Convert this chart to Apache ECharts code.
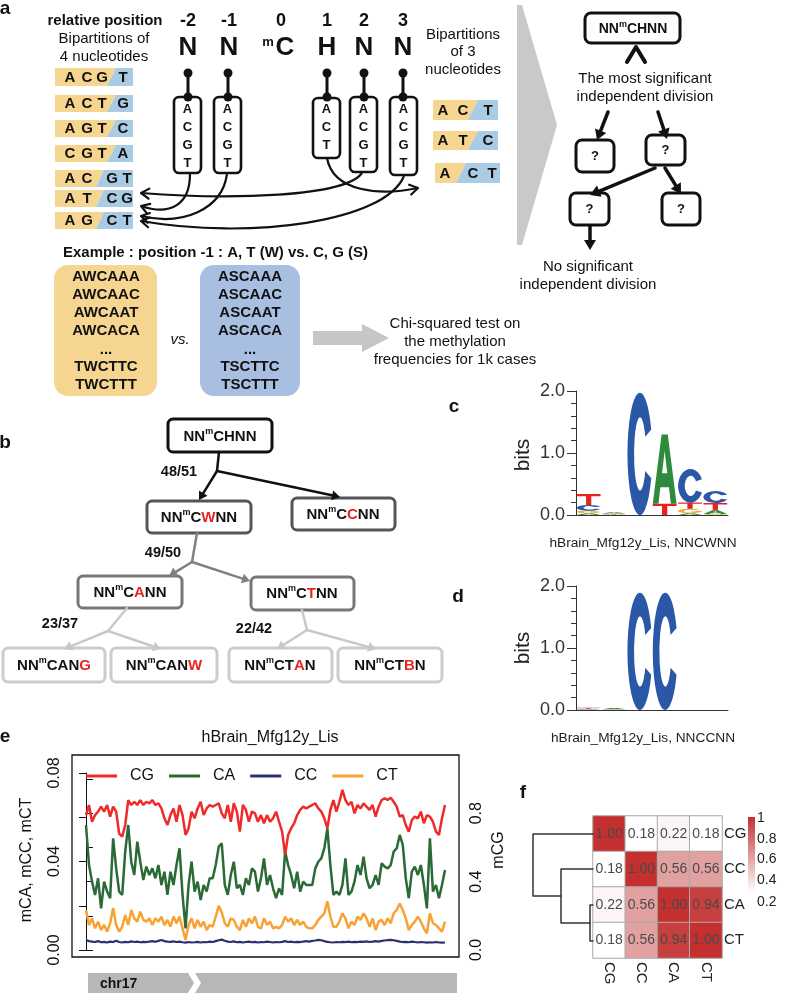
<!DOCTYPE html>
<html><head><meta charset="utf-8">
<script src="https://cdn.jsdelivr.net/npm/echarts/dist/echarts.min.js"></script>
<style>html,body{margin:0;padding:0;background:#fff}#c{width:787px;height:993px}</style>
</head><body><div id="c"></div>
<script>
// ---------------- DATA ----------------
// panel e: methylation levels along chr17 (CG on right axis, others on left axis)
const lineNames = ['CG', 'CA', 'CC', 'CT'];
const mCG = [.789,.848,.750,.789,.809,.838,.809,.848,.780,.838,.809,.680,.663,.731,.877,.848,.867,.848,.877,.848,.867,.858,.877,.848,.858,.828,.770,.731,.789,.828,.750,.848,.789,.673,.712,.809,.770,.828,.867,.789,.828,.848,
.838,.848,.858,.799,.770,.848,.750,.858,.809,.692,.848,.819,.750,.809,.799,.750,.789,.741,.789,.750,.770,.809,.750,.692,.556,.673,.712,.741,.789,.819,.838,.828,.838,.848,.858,.828,.809,.770,.712,.819,.877,
.809,.867,.936,.877,.848,.867,.799,.848,.828,.858,.838,.819,.848,.780,.838,.877,.887,.877,.891,.867,.838,.780,.789,.731,.692,.760,.780,.770,.809,.741,.789,.780,.750,.692,.673,.770,.848];
const mCA = [.0565,.0384,.0309,.0249,.0324,.0188,.0309,.0264,.0234,.0505,.0369,.0264,.0249,.0445,.0565,.0399,.0339,.0490,.0399,.0316,.0377,.0339,.0369,.0324,.0384,.0294,.0354,.0249,.0354,.0294,.0384,.0460,.0249,.0098,.0294,.0400,.0264,.0309,.0226,.0294,.0264,.0324,
.0324,.0384,.0467,.0482,.0294,.0249,.0339,.0399,.0279,.0294,.0249,.0324,.0294,.0369,.0354,.0264,.0324,.0414,.0294,.0339,.0279,.0234,.0279,.0249,.0445,.0384,.0339,.0279,.0354,.0264,.0309,.0294,.0294,.0294,.0369,.0399,.0414,.0460,.0550,.0384,.0249,
.0264,.0249,.0294,.0414,.0249,.0264,.0309,.0384,.0339,.0422,.0324,.0279,.0294,.0339,.0294,.0392,.0377,.0369,.0384,.0445,.0460,.0520,.0475,.0324,.0234,.0354,.0377,.0339,.0384,.0294,.0188,.0505,.0264,.0294,.0234,.0294,.0362];
const mCC = [.0045,.0040,.0038,.0036,.0040,.0035,.0037,.0034,.0038,.0036,.0042,.0036,.0034,.0037,.0035,.0039,.0036,.0038,.0035,.0037,
.0036,.0038,.0040,.0037,.0041,.0045,.0040,.0038,.0037,.0039,.0036,.0038,.0035,.0033,.0036,.0034,.0035,.0037,.0034,.0036,
.0035,.0038,.0036,.0040,.0044,.0047,.0042,.0038,.0036,.0039,.0035,.0037,.0034,.0036,.0038,.0035,.0037,.0034,.0036,.0035,
.0038,.0036,.0034,.0036,.0035,.0037,.0040,.0036,.0038,.0035,.0037,.0036,.0038,.0040,.0038,.0041,.0043,.0046,.0044,.0040,
.0037,.0035,.0034,.0036,.0035,.0037,.0036,.0038,.0035,.0037,.0036,.0038,.0037,.0039,.0036,.0038,.0040,.0038,.0041,.0043,
.0045,.0046,.0044,.0041,.0038,.0036,.0037,.0035,.0038,.0036,.0034,.0036,.0035,.0033,.0035,.0034,.0036,.0034,.0033,.0034];
const mCT = [.0181,.0113,.0143,.0098,.0128,.0090,.0113,.0083,.0121,.0190,.0113,.0083,.0105,.0158,.0113,.0181,.0143,.0128,.0173,.0136,.0128,.0143,.0113,.0143,.0128,.0151,.0113,.0136,.0105,.0151,.0121,.0151,.0098,.0045,.0113,.0143,.0098,.0136,.0105,.0128,.0090,.0113,
.0105,.0151,.0200,.0170,.0121,.0105,.0143,.0136,.0105,.0090,.0136,.0105,.0143,.0121,.0151,.0105,.0098,.0143,.0113,.0128,.0098,.0105,.0098,.0113,.0151,.0128,.0143,.0113,.0136,.0113,.0128,.0105,.0098,.0098,.0113,.0136,.0151,.0166,.0220,.0151,.0105,
.0105,.0128,.0166,.0143,.0098,.0128,.0113,.0151,.0136,.0166,.0143,.0105,.0143,.0090,.0128,.0136,.0113,.0143,.0121,.0166,.0181,.0210,.0181,.0143,.0090,.0113,.0128,.0151,.0128,.0098,.0075,.0166,.0121,.0113,.0098,.0083,.0128];
const leftTicks = ['0.00', '0.04', '0.08'];
const rightTicks = ['0.0', '0.4', '0.8'];

// panels c, d: sequence logo heights (bits) per position
const logoPositions = ['1', '2', '3', '4', '5', '6'];
const wnnA = [0.03, 0.02, 0, 1.12, 0.03, 0.06];
const wnnC = [0.09, 0.006, 1.97, 0, 0.54, 0.19];
const wnnG = [0.04, 0.012, 0, 0, 0.07, 0.015];
const wnnT = [0.18, 0.006, 0, 0.18, 0.10, 0.12];
const ccnA = [0.006, 0.02, 0, 0, 0, 0];
const ccnC = [0.012, 0.004, 1.89, 1.89, 0, 0];
const ccnG = [0.004, 0.004, 0, 0, 0, 0];
const ccnT = [0.014, 0.003, 0, 0, 0, 0];

// panel f: correlation matrix
const heatCats = ['CG', 'CC', 'CA', 'CT'];
const heatRowCG = [1.00, 0.18, 0.22, 0.18];
const heatRowCC = [0.18, 1.00, 0.56, 0.56];
const heatRowCA = [0.22, 0.56, 1.00, 0.94];
const heatRowCT = [0.18, 0.56, 0.94, 1.00];
const colorbarTicks = ['1', '0.8', '0.6', '0.4', '0.2'];

// ---------------- HELPERS ----------------
const F = '"Liberation Sans", Arial, sans-serif';
const G = [];
function T(x, y, text, size, opt) {
  opt = opt || {};
  const al = opt.align || 'center', va = opt.va || 'middle';
  G.push({type: 'text', x: x, y: y, rotation: opt.rot || 0, z: opt.z || 60,
    style: {text: text, x: 0, y: 0, font: (opt.style || '') + ' ' + (opt.weight || 'normal') + ' ' + size + 'px ' + F,
      fill: opt.color || '#111', align: al, verticalAlign: va, textAlign: al, textVerticalAlign: va}});
}
function R(x, y, w, h, r, fill, stroke, lw, z) {
  G.push({type: 'rect', z: z || 30, shape: {x: x, y: y, width: w, height: h, r: r},
    style: {fill: fill, stroke: stroke || null, lineWidth: lw || 0}});
}
function P(points, fill, z) { G.push({type: 'polygon', z: z || 30, shape: {points: points}, style: {fill: fill}}); }
function PL(points, color, lw, z) { G.push({type: 'polyline', z: z || 40, shape: {points: points}, style: {stroke: color, lineWidth: lw, fill: 'none', lineJoin: 'round', lineCap: 'round'}}); }
function L(x1, y1, x2, y2, color, lw, z) { G.push({type: 'line', z: z || 40, shape: {x1: x1, y1: y1, x2: x2, y2: y2}, style: {stroke: color, lineWidth: lw, lineCap: 'round'}}); }
function C(cx, cy, r, fill) { G.push({type: 'circle', z: 45, shape: {cx: cx, cy: cy, r: r}, style: {fill: fill}}); }
function arrowF(x1, y1, x2, y2, color, lw, hl, hw) {
  const dx = x2 - x1, dy = y2 - y1, d = Math.hypot(dx, dy), ux = dx / d, uy = dy / d;
  const bx = x2 - ux * hl, by = y2 - uy * hl;
  L(x1, y1, bx + ux, by + uy, color, lw);
  P([[x2, y2], [bx - uy * hw, by + ux * hw], [bx + uy * hw, by - ux * hw]], color, 41);
}
function openHead(x2, y2, ux, uy, color, lw, hl, hw) {
  const bx = x2 - ux * hl, by = y2 - uy * hl;
  PL([[bx - uy * hw, by + ux * hw], [x2, y2], [bx + uy * hw, by - ux * hw]], color, lw, 41);
}
function curveArrow(x1, y1, c1x, c1y, c2x, c2y, x2, y2, color, lw) {
  G.push({type: 'bezierCurve', z: 40, shape: {x1: x1, y1: y1, cpx1: c1x, cpy1: c1y, cpx2: c2x, cpy2: c2y, x2: x2, y2: y2},
    style: {stroke: color, lineWidth: lw, fill: 'none'}});
  const dx = x2 - c2x, dy = y2 - c2y, d = Math.hypot(dx, dy);
  openHead(x2, y2, dx / d, dy / d, color, lw, 8, 5);
}
function motif(x, y, pre, red, post, size, msize) {
  let s = '{n|NN}{m|m}{n|C' + pre + '}';
  if (red) s += '{r|' + red + '}';
  if (post) s += '{n|' + post + '}';
  G.push({type: 'text', x: x, y: y, z: 60, style: {text: s, x: 0, y: 0, align: 'center', verticalAlign: 'middle',
    textAlign: 'center', textVerticalAlign: 'middle',
    rich: {n: {font: 'bold ' + size + 'px ' + F, fill: '#111', verticalAlign: 'bottom', lineHeight: size + 2},
           m: {font: 'bold ' + msize + 'px ' + F, fill: '#111', verticalAlign: 'top', lineHeight: msize + 1},
           r: {font: 'bold ' + size + 'px ' + F, fill: '#e8251f', verticalAlign: 'bottom', lineHeight: size + 2}}}});
}

// ---------------- PANEL LABELS ----------------
T(5, 9, 'a', 19, {weight: 'bold'});
T(5, 443, 'b', 19, {weight: 'bold'});
T(454, 407, 'c', 19, {weight: 'bold'});
T(458, 597, 'd', 19, {weight: 'bold'});
T(5, 737, 'e', 19, {weight: 'bold'});
T(523, 793, 'f', 19, {weight: 'bold'});

// ---------------- PANEL A ----------------
T(105, 21, 'relative position', 15, {weight: 'bold'});
const headNums = ['-2', '-1', '0', '1', '2', '3'];
const headBases = ['N', 'N', 'C', 'H', 'N', 'N'];
const headX = [188, 229, 285, 327, 364, 403];
headNums.forEach((s, i) => T(i === 2 ? 281 : headX[i], 21, s, 18, {weight: 'bold'}));
headBases.forEach((s, i) => T(headX[i], 48, s, 26, {weight: 'bold'}));
T(268, 42, 'm', 13, {weight: 'bold'});
T(104, 39, 'Bipartitions of', 15);
T(104, 57, '4 nucleotides', 15);
T(463, 35, 'Bipartitions', 15);
T(463, 52, 'of 3', 15);
T(463, 70, 'nucleotides', 15);

const YEL = '#f6d591', BLU = '#a9cbe3';
function bipart(x0, x1, y, h, xt, xb, left, right) {
  P([[x0, y], [xt, y], [xb, y + h], [x0, y + h]], YEL, 20);
  P([[xt, y], [x1, y], [x1, y + h], [xb, y + h]], BLU, 20);
  left.forEach(o => T(o[0], y + h / 2 + 0.5, o[1], 15, {weight: 'bold'}));
  right.forEach(o => T(o[0], y + h / 2 + 0.5, o[1], 15, {weight: 'bold'}));
}
const leftRows = [
  [68, 18, 'ACG', 'T'], [95, 17, 'ACT', 'G'], [120, 17, 'AGT', 'C'], [145, 17, 'CGT', 'A'],
  [170, 17, 'AC', 'GT'], [190, 17, 'AT', 'CG'], [212, 17, 'AG', 'CT']];
leftRows.forEach(r => {
  if (r[2].length === 3) bipart(55, 133, r[0], r[1], 116, 107, [[70, r[2][0]], [87, r[2][1]], [102, r[2][2]]], [[123, r[3]]]);
  else bipart(55, 133, r[0], r[1], 104, 96, [[70, r[2][0]], [87, r[2][1]]], [[112, r[3][0]], [127, r[3][1]]]);
});
bipart(433, 498, 100, 20, 478, 468, [[443, 'A'], [463, 'C']], [[488, 'T']]);
bipart(433, 498, 131, 19, 478, 468, [[443, 'A'], [463, 'T']], [[488, 'C']]);
bipart(435, 500, 163, 20, 466, 456, [[445, 'A']], [[473, 'C'], [492, 'T']]);

const posBoxes = [
  {x: 174, y: 97, w: 27, h: 76, cx: 188, lt: 'ACGT'},
  {x: 214, y: 97, w: 27, h: 76, cx: 228, lt: 'ACGT'},
  {x: 313, y: 98, w: 27, h: 60, cx: 327, lt: 'ACT'},
  {x: 350, y: 97, w: 27, h: 75, cx: 364, lt: 'ACGT'},
  {x: 390, y: 97, w: 27, h: 78, cx: 403, lt: 'ACGT'}];
posBoxes.forEach(b => {
  R(b.x, b.y, b.w, b.h, 5, '#fff', '#111', 2.6, 35);
  b.lt.split('').forEach((ch, k) => T(b.x + b.w / 2, 109 + k * 18.3, ch, 13, {weight: 'bold'}));
  L(b.cx, 73, b.cx, 97, '#111', 3, 44);
  C(b.cx, 73, 4.5, '#111');
  C(b.cx, 97, 4.5, '#111');
});
curveArrow(362, 173, 345, 197, 230, 200, 141, 193, '#111', 2.2);
curveArrow(404, 176, 385, 222, 250, 240, 141, 221, '#111', 2.2);
curveArrow(327, 158, 333, 192, 380, 196, 418, 188, '#111', 2.2);
curveArrow(190, 174, 190, 205, 170, 216, 141, 206, '#111', 2.2);
curveArrow(227, 174, 222, 210, 182, 226, 141, 216, '#111', 2.2);

// big chevron
P([[517, 5], [522, 5], [557, 125], [522, 245], [517, 245]], '#c9c9c9', 10);

// flow diagram
R(585, 13, 95, 30, 6, '#fff', '#111', 3, 35);
motif(633, 28, 'HNN', '', '', 14, 9);
PL([[627, 62], [636, 47], [645, 62]], '#111', 4);
T(645, 79, 'The most significant', 15);
T(645, 97, 'independent division', 15);
arrowF(608, 112, 597, 140, '#111', 3.5, 10, 6);
arrowF(658, 112, 667, 139, '#111', 3.5, 10, 6);
arrowF(655, 168, 590, 195, '#111', 3.5, 10, 6);
arrowF(665, 168, 681, 194, '#111', 3.5, 10, 6);
arrowF(590, 226, 590, 250, '#111', 3.5, 10, 6);
const qBoxes = [[576, 140, 38, 32], [646, 135, 39, 30], [570, 193, 39, 32], [662, 193, 38, 32]];
qBoxes.forEach(q => { R(q[0], q[1], q[2], q[3], 6, '#fff', '#111', 3, 35); T(q[0] + q[2] / 2, q[1] + q[3] / 2, '?', 13, {weight: 'bold'}); });
T(588, 267, 'No significant', 15);
T(588, 285, 'independent division', 15);

// example
T(63, 253, 'Example : position -1 : A, T (W) vs. C, G (S)', 15, {weight: 'bold', align: 'left'});
R(54, 265, 103, 131, 14, '#f6d591', null, 0, 20);
R(200, 265, 100, 131, 14, '#a9bfe1', null, 0, 20);
const exW = ['AWCAAA', 'AWCAAC', 'AWCAAT', 'AWCACA', '...', 'TWCTTC', 'TWCTTT'];
const exS = ['ASCAAA', 'ASCAAC', 'ASCAAT', 'ASCACA', '...', 'TSCTTC', 'TSCTTT'];
const exY = [277, 295, 313, 331, 350, 367, 385];
exW.forEach((s, i) => T(106, exY[i], s, 15, {weight: 'bold'}));
exS.forEach((s, i) => T(250, exY[i], s, 15, {weight: 'bold'}));
T(180, 340, 'vs.', 15, {style: 'italic'});
P([[313, 331], [362, 331], [362, 324], [389, 338], [362, 352], [362, 345], [313, 345]], '#c6c6c6', 20);
T(455, 324, 'Chi-squared test on', 15);
T(455, 342, 'the methylation', 15);
T(455, 360, 'frequencies for 1k cases', 15);

// ---------------- PANEL B ----------------
R(168, 419, 104, 33, 5, '#fff', '#111', 3, 35); motif(220, 436, 'HNN', '', '', 15, 9);
T(179, 472, '48/51', 14.5, {weight: 'bold'});
L(219, 452, 217, 471, '#111', 2.5);
arrowF(217, 471, 199, 500, '#111', 2.5, 8, 5);
arrowF(217, 471, 340, 497, '#111', 2.5, 8, 5);
R(147, 501, 104, 32, 5, '#fff', '#555', 3, 35); motif(199, 517, '', 'W', 'NN', 15, 9);
R(292, 498, 103, 32, 5, '#fff', '#555', 3, 35); motif(343, 514, '', 'C', 'NN', 15, 9);
T(163, 553, '49/50', 14.5, {weight: 'bold'});
L(197, 533, 192, 562, '#808080', 2.5);
arrowF(192, 562, 169, 576, '#808080', 2.5, 8, 5);
arrowF(192, 562, 250, 581, '#808080', 2.5, 8, 5);
R(78, 576, 104, 32, 5, '#fff', '#777', 3, 35); motif(130, 592, '', 'A', 'NN', 15, 9);
R(251, 577, 103, 33, 5, '#fff', '#777', 3, 35); motif(302, 593, '', 'T', 'NN', 15, 9);
T(60, 624, '23/37', 14.5, {weight: 'bold'});
T(254, 629, '22/42', 14.5, {weight: 'bold'});
L(127, 608, 108, 631, '#c8c8c8', 2.5);
arrowF(108, 631, 64, 649, '#c8c8c8', 2.5, 8, 5);
arrowF(108, 631, 161, 649, '#c8c8c8', 2.5, 8, 5);
L(302, 610, 307, 630, '#c8c8c8', 2.5);
arrowF(307, 630, 277, 649, '#c8c8c8', 2.5, 8, 5);
arrowF(307, 630, 376, 649, '#c8c8c8', 2.5, 8, 5);
R(3, 648, 102, 34, 5, '#fff', '#cccccc', 3, 35); motif(54, 665, 'AN', 'G', '', 15, 9);
R(111, 648, 106, 34, 5, '#fff', '#cccccc', 3, 35); motif(164, 665, 'AN', 'W', '', 15, 9);
R(229, 648, 103, 34, 5, '#fff', '#cccccc', 3, 35); motif(280, 665, 'T', 'A', 'N', 15, 9);
R(338, 648, 104, 34, 5, '#fff', '#cccccc', 3, 35); motif(390, 665, 'T', 'B', 'N', 15, 9);

// ---------------- PANELS C, D labels ----------------
T(523, 455, 'bits', 21, {rot: Math.PI / 2, color: '#222'});
T(523, 648, 'bits', 21, {rot: Math.PI / 2, color: '#222'});
T(643, 543, 'hBrain_Mfg12y_Lis, NNCWNN', 13.7, {color: '#222'});
T(643, 738, 'hBrain_Mfg12y_Lis, NNCCNN', 13.7, {color: '#222'});

// ---------------- PANEL E decorations ----------------
T(270, 738, 'hBrain_Mfg12y_Lis', 16, {color: '#111'});
R(72, 755, 387, 202, 0, 'none', '#111', 1.3, 70);
T(27, 860, 'mCA, mCC, mCT', 16, {rot: Math.PI / 2, color: '#111'});
T(499, 850, 'mCG', 16, {rot: Math.PI / 2, color: '#111'});
P([[88, 973], [188, 973], [194, 983], [188, 993], [88, 993]], '#b7b7b7', 20);
P([[195, 973], [457, 973], [457, 993], [195, 993], [201, 983]], '#b7b7b7', 20);
T(100, 984, 'chr17', 14, {weight: 'bold', align: 'left', color: '#111'});

// ---------------- PANEL F decorations ----------------
PL([[593, 834], [533, 834], [533, 896], [561, 896]], '#333', 1.5);
PL([[593, 869], [561, 869], [561, 923], [590, 923]], '#333', 1.5);
PL([[593, 905], [590, 905], [590, 941], [593, 941]], '#333', 1.5);
G.push({type: 'rect', z: 30, shape: {x: 748, y: 817, width: 7, height: 76},
  style: {fill: {type: 'linear', x: 0, y: 0, x2: 0, y2: 1, colorStops: [{offset: 0, color: '#c42f2f'}, {offset: 0.5, color: '#e09a9a'}, {offset: 1, color: '#ffffff'}]}}});
const cbY = [818, 839, 859, 880, 902];
colorbarTicks.forEach((s, i) => T(757, cbY[i], s, 14, {align: 'left', color: '#222'}));

// ---------------- LOGO RENDERING ----------------
const GLYPH = {
  A: 'M0,100 L37,0 L63,0 L100,100 L76,100 L68,76 L32,76 L24,100 Z M39,56 L61,56 L50,24 Z',
  C: 'M96,30 A50,50 0 1 0 96,70 L72,64 A24,30 0 1 1 72,36 Z',
  G: 'M95,27 A50,50 0 1 0 100,58 L100,48 L56,48 L56,62 L76,62 A26,32 0 1 1 72,36 Z',
  T: 'M0,0 L100,0 L100,20 L61,20 L61,100 L39,100 L39,20 L0,20 Z'
};
const BASECOL = {A: '#2f8a3e', C: '#2b58a6', G: '#f5a623', T: '#e6241c'};
function logoRender(vals) {
  return function (params, api) {
    const i = api.value(0);
    const bw = api.size([1, 0])[0] * 0.94;
    const cx = api.coord([i, 0])[0];
    const items = ['A', 'C', 'G', 'T'].map(b => ({b: b, h: vals[b][i]})).filter(o => o.h > 0).sort((a, b) => a.h - b.h);
    let base = 0;
    const children = [];
    items.forEach(o => {
      const top = api.coord([i, base + o.h])[1], bot = api.coord([i, base])[1];
      children.push({type: 'path', shape: {pathData: GLYPH[o.b], x: cx - bw / 2, y: top, width: bw, height: Math.max(bot - top, 0.3), layout: 'cover'},
        style: {fill: BASECOL[o.b]}});
      base += o.h;
    });
    return {type: 'group', children: children};
  };
}

function logoAxes(grid) {
  return {
    x: {gridIndex: grid, type: 'category', data: logoPositions, boundaryGap: true,
      axisLine: {lineStyle: {color: '#333', width: 1}}, axisTick: {alignWithLabel: true, length: 4, lineStyle: {color: '#333'}},
      axisLabel: {show: false}, splitLine: {show: false}},
    y: {gridIndex: grid, type: 'value', min: 0, max: 2, interval: 1,
      axisLine: {show: true, lineStyle: {color: '#333', width: 1}}, axisTick: {show: true, length: 9, lineStyle: {color: '#333'}},
      minorTick: {show: true, splitNumber: 5, length: 5, lineStyle: {color: '#333'}},
      axisLabel: {fontSize: 18, color: '#333', margin: 11, fontFamily: F, formatter: v => v.toFixed(1)},
      splitLine: {show: false}, minorSplitLine: {show: false}}
  };
}
const la0 = logoAxes(0), la1 = logoAxes(1);

const xN = mCA.length;
const heatData = [];
[heatRowCG, heatRowCC, heatRowCA, heatRowCT].forEach((row, r) => row.forEach((v, c) => heatData.push([c, r, v])));
const lineCol = {CG: '#ee2a2a', CA: '#2a6a36', CC: '#2c2f70', CT: '#f7a232'};

const option = {
  animation: false,
  textStyle: {fontFamily: F},
  grid: [
    {left: 576, top: 391, width: 152, height: 124, outerBoundsMode: 'none'},
    {left: 576, top: 586, width: 152, height: 124, outerBoundsMode: 'none'},
    {left: 72, top: 773, width: 387, height: 177, outerBoundsMode: 'none'},
    {left: 72, top: 779, width: 387, height: 171, outerBoundsMode: 'none'},
    {left: 593, top: 816, width: 129, height: 142, outerBoundsMode: 'none'}
  ],
  xAxis: [
    la0.x, la1.x,
    {gridIndex: 2, type: 'value', min: -4.64, max: xN - 1 + 4.64, show: false},
    {gridIndex: 3, type: 'value', min: -4.64, max: xN - 1 + 4.64, show: false},
    {gridIndex: 4, type: 'category', data: heatCats, position: 'bottom',
      axisLine: {show: false}, axisTick: {show: false}, splitLine: {show: false},
      axisLabel: {rotate: -90, margin: 4, fontSize: 15, color: '#222', fontFamily: F}}
  ],
  yAxis: [
    la0.y, la1.y,
    {gridIndex: 2, type: 'value', min: 0, max: 0.08, interval: 0.02, position: 'left',
      axisLine: {show: true, lineStyle: {color: '#111', width: 1}}, axisTick: {show: true, length: 7, lineStyle: {color: '#111'}},
      splitLine: {show: false},
      axisLabel: {rotate: 90, margin: 9, fontSize: 16, color: '#111', fontFamily: F,
        formatter: v => { const s = v.toFixed(2); return leftTicks.indexOf(s) >= 0 ? s : ''; }}},
    {gridIndex: 3, type: 'value', min: 0, max: 1, interval: 0.2, position: 'right',
      axisLine: {show: true, lineStyle: {color: '#111', width: 1}}, axisTick: {show: true, length: 7, lineStyle: {color: '#111'}},
      splitLine: {show: false},
      axisLabel: {rotate: 90, margin: 10, fontSize: 16, color: '#111', fontFamily: F,
        formatter: v => { const s = v.toFixed(1); return rightTicks.indexOf(s) >= 0 ? s : ''; }}},
    {gridIndex: 4, type: 'category', data: heatCats, inverse: true, position: 'right',
      axisLine: {show: false}, axisTick: {show: false}, splitLine: {show: false},
      axisLabel: {margin: 2, fontSize: 15, color: '#222', fontFamily: F}}
  ],
  legend: {data: lineNames, left: 86, top: 768, padding: 0, orient: 'horizontal', icon: 'rect',
    itemWidth: 31, itemHeight: 3, itemGap: 15, selectedMode: false,
    textStyle: {fontSize: 16, color: '#111', fontFamily: F, padding: [0, 0, 0, 8]}},
  visualMap: {show: false, seriesIndex: 6, dimension: 2, min: 0.18, max: 1,
    inRange: {color: ['#ffffff', '#e09a9a', '#c42f2f']}},
  series: [
    {type: 'custom', xAxisIndex: 0, yAxisIndex: 0, data: logoPositions.map((p, i) => [i]), clip: false,
      renderItem: logoRender({A: wnnA, C: wnnC, G: wnnG, T: wnnT})},
    {type: 'custom', xAxisIndex: 1, yAxisIndex: 1, data: logoPositions.map((p, i) => [i]), clip: false,
      renderItem: logoRender({A: ccnA, C: ccnC, G: ccnG, T: ccnT})},
    {name: 'CG', type: 'line', xAxisIndex: 3, yAxisIndex: 3, data: mCG.map((v, i) => [i, v]), showSymbol: false,
      color: lineCol.CG, lineStyle: {width: 2.5, color: lineCol.CG}, z: 5},
    {name: 'CA', type: 'line', xAxisIndex: 2, yAxisIndex: 2, data: mCA.map((v, i) => [i, v]), showSymbol: false,
      color: lineCol.CA, lineStyle: {width: 2.5, color: lineCol.CA}, z: 4},
    {name: 'CC', type: 'line', xAxisIndex: 2, yAxisIndex: 2, data: mCC.map((v, i) => [i, v]), showSymbol: false,
      color: lineCol.CC, lineStyle: {width: 2.2, color: lineCol.CC}, z: 4},
    {name: 'CT', type: 'line', xAxisIndex: 2, yAxisIndex: 2, data: mCT.map((v, i) => [i, v]), showSymbol: false,
      color: lineCol.CT, lineStyle: {width: 2.5, color: lineCol.CT}, z: 3},
    {type: 'heatmap', xAxisIndex: 4, yAxisIndex: 4, data: heatData,
      itemStyle: {borderColor: '#a8a8a8', borderWidth: 1},
      label: {show: true, fontSize: 14, color: '#4a4a4a', fontFamily: F, formatter: p => p.value[2].toFixed(2)}}
  ],
  graphic: {elements: G}
};
const chart = echarts.init(document.getElementById('c'), null, {renderer: 'canvas'});
chart.setOption(option);
</script>
</body></html>
